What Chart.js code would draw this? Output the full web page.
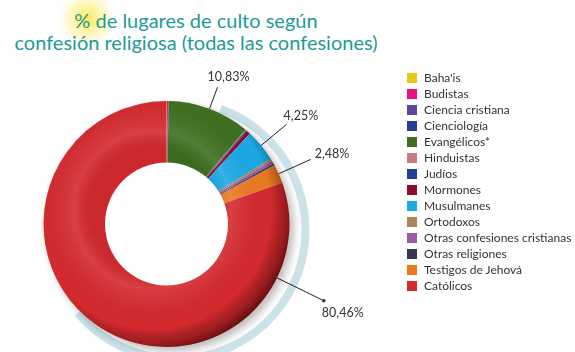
<!DOCTYPE html>
<html lang="es">
<head>
<meta charset="utf-8">
<title>% de lugares de culto según confesión religiosa</title>
<script src="https://cdn.jsdelivr.net/npm/chart.js@4.4.1/dist/chart.umd.min.js"></script>
<style>
    html, body { margin: 0; padding: 0; background: #fff; }
    #wrap { position: relative; width: 575px; height: 352px; overflow: hidden; font-family: Lato, sans-serif; }
    #chart { position: absolute; left: 0; top: 0; }
    .glow {
        position: absolute; left: 58px; top: -8px; width: 58px; height: 54px; border-radius: 50%;
        background: radial-gradient(circle, rgba(250,232,80,0.95) 0%, rgba(252,240,130,0.55) 40%, rgba(255,255,255,0) 70%);
    }
    .title {
        position: absolute; left: 0; top: 9px; width: 392px; text-align: center;
        color: #1d9a98; font-size: 20px; line-height: 22px;
    }
    #legend { position: absolute; left: 407px; top: 70px; margin: 0; padding: 0; list-style: none; }
    #legend li { height: 16px; line-height: 16px; font-size: 12px; color: #333; white-space: nowrap; }
    #legend span { display: inline-block; width: 10px; height: 10px; margin-right: 7px; vertical-align: -1px; }
</style>
</head>
<body>
<div id="wrap">
    <div class="glow"></div>
    <div class="title">% de lugares de culto según<br>confesión religiosa (todas las confesiones)</div>
    <canvas id="chart" width="575" height="352"></canvas>
    <ul id="legend"></ul>
</div>
<script>
// Confessions, in legend order (same order as the slices, clockwise from the top)
const labels = [
    "Baha'is",
    "Budistas",
    "Ciencia cristiana",
    "Cienciología",
    "Evangélicos*",
    "Hinduistas",
    "Judíos",
    "Mormones",
    "Musulmanes",
    "Ortodoxos",
    "Otras confesiones cristianas",
    "Otras religiones",
    "Testigos de Jehová",
    "Católicos"
];

// Share of places of worship (%); the small ones are estimated from the picture
const values = [0.05, 0.15, 0.05, 0.02, 10.83, 0.10, 0.15, 0.50, 4.25, 0.30, 0.40, 0.26, 2.48, 80.46];

const colors = [
    '#e8c81a', '#e6157e', '#5b4a9c', '#233f94', '#3f7021', '#c87a82', '#233f94',
    '#8c0a2a', '#1aa9e6', '#a8865a', '#9b5aa8', '#3a3550', '#ea7a22', '#d42a2e'
];

// Build the legend
const legendEl = document.getElementById('legend');
labels.forEach((label, i) => {
    const li = document.createElement('li');
    const box = document.createElement('span');
    box.style.background = colors[i];
    li.appendChild(box);
    li.appendChild(document.createTextNode(label));
    legendEl.appendChild(li);
});

const fmt = v => v.toFixed(2).replace('.', ',') + '%';

// Light blue ring and soft shadow behind the doughnut
const backdrop = {
    id: 'backdrop',
    beforeDatasetsDraw(chart) {
        const arc = chart.getDatasetMeta(0).data[0];
        const { x, y, outerRadius } = arc.getProps(['x', 'y', 'outerRadius'], true);
        const ctx = chart.ctx;
        ctx.save();
        ctx.strokeStyle = '#cbe2e8';
        ctx.lineWidth = 8;
        ctx.beginPath();
        ctx.arc(x + 10, y + 6, outerRadius + 6, -70 * Math.PI / 180, 140 * Math.PI / 180);
        ctx.stroke();

        ctx.shadowColor = 'rgba(0,0,0,0.28)';
        ctx.shadowBlur = 8;
        ctx.shadowOffsetX = 4;
        ctx.shadowOffsetY = 4;
        ctx.fillStyle = '#fff';
        ctx.beginPath();
        ctx.arc(x, y, outerRadius, 0, Math.PI * 2);
        ctx.fill();
        ctx.restore();
    }
};

// 3D-ish shading over the ring
const shading = {
    id: 'shading',
    afterDatasetsDraw(chart) {
        const arc = chart.getDatasetMeta(0).data[0];
        const { x, y, outerRadius, innerRadius } = arc.getProps(['x', 'y', 'outerRadius', 'innerRadius'], true);
        const ctx = chart.ctx;
        const gx = x - 14, gy = y - 14, gr = outerRadius + 18;
        const g = ctx.createRadialGradient(gx, gy, 0, gx, gy, gr);
        const k = innerRadius / gr;
        g.addColorStop(0, 'rgba(0,0,0,0)');
        g.addColorStop(k, 'rgba(0,0,0,0.05)');
        g.addColorStop(k + 0.12, 'rgba(255,255,255,0.10)');
        g.addColorStop(0.84, 'rgba(0,0,0,0)');
        g.addColorStop(0.95, 'rgba(40,0,0,0.35)');
        g.addColorStop(1, 'rgba(40,0,0,0.6)');
        ctx.save();
        ctx.beginPath();
        ctx.arc(x, y, outerRadius, 0, Math.PI * 2);
        ctx.arc(x, y, innerRadius, 0, Math.PI * 2, true);
        ctx.fillStyle = g;
        ctx.fill('evenodd');
        ctx.restore();
    }
};

// Percentage callouts with leader lines
const callouts = [
    { index: 4, len: 23, dx: 11, dy: -10, align: 'center' },
    { index: 8, len: 33, dx: -3, dy: -8, align: 'left' },
    { index: 12, len: 35, dx: 4, dy: -5, align: 'left' },
    { index: 13, len: 52, dx: -2, dy: 12, align: 'left', deg: 116, dot: true }
];

const calloutPlugin = {
    id: 'callouts',
    afterDraw(chart) {
        const meta = chart.getDatasetMeta(0);
        const ctx = chart.ctx;
        ctx.save();
        ctx.strokeStyle = '#222';
        ctx.fillStyle = '#333';
        ctx.lineWidth = 1;
        ctx.font = '12.5px Lato, sans-serif';
        ctx.textBaseline = 'middle';
        callouts.forEach(c => {
            const arc = meta.data[c.index];
            const p = arc.getProps(['x', 'y', 'startAngle', 'endAngle', 'outerRadius'], true);
            const a = c.deg !== undefined ? (c.deg - 90) * Math.PI / 180 : (p.startAngle + p.endAngle) / 2;
            const x1 = p.x + Math.cos(a) * p.outerRadius;
            const y1 = p.y + Math.sin(a) * p.outerRadius;
            const x2 = p.x + Math.cos(a) * (p.outerRadius + c.len);
            const y2 = p.y + Math.sin(a) * (p.outerRadius + c.len);
            ctx.beginPath();
            ctx.moveTo(x1, y1);
            ctx.lineTo(x2, y2);
            ctx.stroke();
            if (c.dot) {
                ctx.beginPath();
                ctx.arc(x2, y2, 1.8, 0, Math.PI * 2);
                ctx.fill();
            }
            ctx.textAlign = c.align;
            ctx.fillText(fmt(values[c.index]), x2 + c.dx, y2 + c.dy);
        });
        ctx.restore();
    }
};

new Chart(document.getElementById('chart'), {
    type: 'doughnut',
    data: {
        labels: labels,
        datasets: [{
            data: values,
            backgroundColor: colors,
            borderWidth: 0
        }]
    },
    options: {
        responsive: false,
        animation: false,
        cutout: '50%',
        layout: { padding: { left: 43, top: 101, right: 285, bottom: 5 } },
        plugins: {
            legend: { display: false },
            tooltip: { enabled: false }
        }
    },
    plugins: [backdrop, shading, calloutPlugin]
});
</script>
</body>
</html>
